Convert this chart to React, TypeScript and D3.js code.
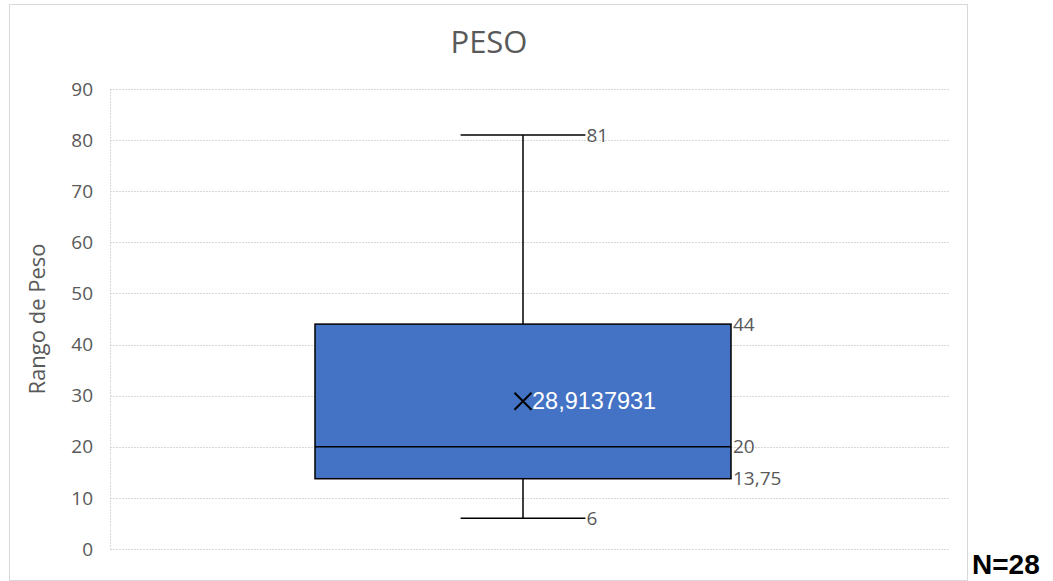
import React from "react";
import * as d3 from "d3";

// Five-number summary and mean of the weight sample
const category = ["PESO"];
const whiskerLow = [6];
const quartile1 = [13.75];
const median = [20];
const quartile3 = [44];
const whiskerHigh = [81];
const means = [28.9137931];
const yTicks = [0, 10, 20, 30, 40, 50, 60, 70, 80, 90];
const sampleSize = 28;

const fmt = (v: number) => String(v).replace(".", ",");

export default function App() {
  const W = 1053;
  const H = 581;
  const plot = { left: 110, right: 950, top: 89, bottom: 549 };

  const y = d3.scaleLinear().domain([0, 90]).range([plot.bottom, plot.top]);
  // the category slot sits slightly left of the plot centre
  const x = d3
    .scaleBand<string>()
    .domain(category)
    .range([plot.left - 7, plot.right - 7])
    .paddingInner(0.5)
    .paddingOuter(0.2548);

  const font = "'Open Sans', 'Liberation Sans', Arial, sans-serif";
  const labelColor = "#595959";

  return (
    <svg
      width={W}
      height={H}
      style={{ position: "absolute", left: 0, top: 0, background: "#fff" }}
    >
      {/* chart frame */}
      <rect x={9.5} y={4.5} width={958} height={576} fill="#fff" stroke="#d9d9d9" strokeWidth={1} />

      <text x={489} y={53} textAnchor="middle" fontFamily={font} fontSize={31} fill={labelColor}>
        PESO
      </text>

      {/* gridlines */}
      {yTicks.map((t) => (
        <line
          key={t}
          x1={plot.left}
          x2={plot.right}
          y1={Math.round(y(t)) + 0.5}
          y2={Math.round(y(t)) + 0.5}
          stroke="#d9d9d9"
          strokeDasharray="2 1"
        />
      ))}
      <line x1={plot.left + 0.5} x2={plot.left + 0.5} y1={plot.top} y2={plot.bottom} stroke="#d9d9d9" strokeDasharray="2 1" />

      {yTicks.map((t) => (
        <text
          key={t}
          x={93}
          y={y(t)}
          dy="0.35em"
          textAnchor="end"
          fontFamily={font}
          fontSize={19}
          fill={labelColor}
        >
          {t}
        </text>
      ))}

      <text
        transform={`translate(45,${(plot.top + plot.bottom) / 2}) rotate(-90)`}
        textAnchor="middle"
        fontFamily={font}
        fontSize={22}
        fill={labelColor}
      >
        Rango de Peso
      </text>

      {category.map((c, i) => {
        const x0 = x(c)!;
        const bw = x.bandwidth();
        const cx = x0 + bw / 2;
        const capHalf = bw * 0.15;
        const right = x0 + bw;
        const lab = { fontFamily: font, fontSize: 19, fill: labelColor };
        const my = y(means[i]);
        const m = 8.5;
        return (
          <g key={c}>
            {/* whiskers */}
            <line x1={cx} x2={cx} y1={y(whiskerHigh[i])} y2={y(quartile3[i])} stroke="#000" strokeWidth={1.5} />
            <line x1={cx} x2={cx} y1={y(quartile1[i])} y2={y(whiskerLow[i])} stroke="#000" strokeWidth={1.5} />
            <line x1={cx - capHalf} x2={cx + capHalf} y1={y(whiskerHigh[i])} y2={y(whiskerHigh[i])} stroke="#000" strokeWidth={1.5} />
            <line x1={cx - capHalf} x2={cx + capHalf} y1={y(whiskerLow[i])} y2={y(whiskerLow[i])} stroke="#000" strokeWidth={1.5} />
            {/* box */}
            <rect
              x={x0}
              y={y(quartile3[i])}
              width={bw}
              height={y(quartile1[i]) - y(quartile3[i])}
              fill="#4472c4"
              stroke="#000"
              strokeWidth={1.5}
            />
            <line x1={x0} x2={right} y1={y(median[i])} y2={y(median[i])} stroke="#000" strokeWidth={1.5} />
            {/* mean marker */}
            <path
              d={`M${cx - m},${my - m}L${cx + m},${my + m}M${cx - m},${my + m}L${cx + m},${my - m}`}
              stroke="#000"
              strokeWidth={2}
            />
            <text x={cx + 9} y={my} dy="0.35em" fontFamily="'Liberation Sans', Arial, sans-serif" fontSize={23.5} fill="#fff">
              {fmt(means[i])}
            </text>
            {/* value labels */}
            <text x={cx + capHalf + 1} y={y(whiskerHigh[i])} dy="0.35em" {...lab}>
              {fmt(whiskerHigh[i])}
            </text>
            <text x={cx + capHalf + 1} y={y(whiskerLow[i])} dy="0.35em" {...lab}>
              {fmt(whiskerLow[i])}
            </text>
            <text x={right + 2} y={y(quartile3[i])} dy="0.35em" {...lab}>
              {fmt(quartile3[i])}
            </text>
            <text x={right + 2} y={y(median[i])} dy="0.35em" {...lab}>
              {fmt(median[i])}
            </text>
            <text x={right + 2} y={y(quartile1[i])} dy="0.35em" {...lab}>
              {fmt(quartile1[i])}
            </text>
          </g>
        );
      })}

      <text x={972} y={574} fontFamily="'Liberation Sans', Arial, sans-serif" fontWeight="bold" fontSize={28} fill="#000">
        N={sampleSize}
      </text>
    </svg>
  );
}
